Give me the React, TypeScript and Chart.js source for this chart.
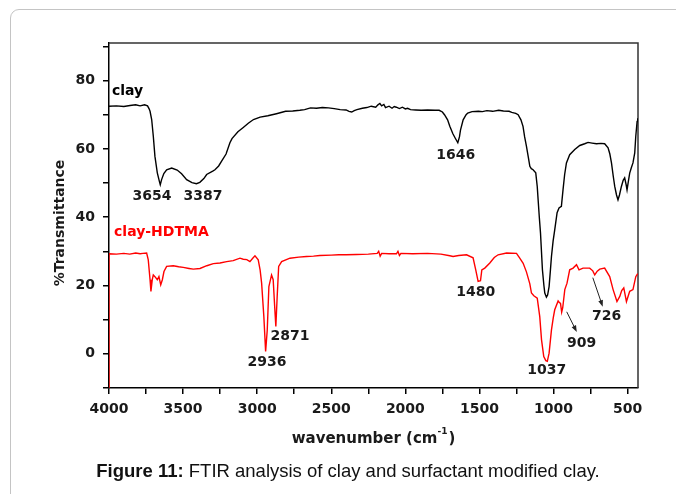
import React, { useEffect, useRef } from 'react';
import { Chart, registerables } from 'chart.js';

Chart.register(...registerables);

// ---- data ----
const CLAY_WAVENUMBER = [
  4000, 3950, 3900, 3858, 3820, 3790, 3760, 3740, 3730, 3723, 3712, 3701, 3690, 3674, 3660, 3654, 3645, 3630,
  3611, 3577, 3540, 3510, 3476, 3440, 3410, 3387, 3360, 3341, 3300, 3285, 3260, 3240, 3210, 3184, 3170, 3130,
  3096, 3060, 3025, 2980, 2928, 2870, 2808, 2760, 2712, 2680, 2640, 2600, 2560, 2519, 2480, 2440, 2400, 2380,
  2362, 2345, 2327, 2290, 2260, 2230, 2200, 2185, 2172, 2160, 2145, 2134, 2110, 2090, 2075, 2061, 2040, 2020,
  2000, 1985, 1965, 1930, 1893, 1850, 1800, 1772, 1750, 1736, 1715, 1700, 1680, 1664, 1646, 1635, 1628, 1610,
  1590, 1579, 1550, 1507, 1480, 1450, 1411, 1370, 1338, 1300, 1282, 1255, 1239, 1220, 1206, 1195, 1183, 1170,
  1160, 1150, 1138, 1120, 1110, 1104, 1096, 1088, 1075, 1065, 1059, 1048, 1040, 1030, 1022, 1014, 1003, 992,
  976, 963, 947, 936, 925, 913, 891, 857, 823, 790, 767, 740, 710, 680, 655, 632, 620, 609, 597, 587, 575, 565,
  555, 542, 530, 520, 510, 504, 495, 486, 475, 464, 452, 445, 436, 432,
];
const CLAY_TRANSMITTANCE = [
  72.5, 72.6, 72.4, 72.7, 72.9, 72.6, 72.9, 72.6, 71.8, 71, 68.6, 63.7, 57.8, 53, 50.5, 49.5, 51, 52.8,
  53.9, 54.4, 53.8, 52.7, 51, 50.1, 49.8, 50.2, 51.3, 52.5, 53.5, 53.9, 55, 56.4, 58.5, 61.8, 63, 65,
  66.2, 67.5, 68.6, 69.3, 69.7, 70.3, 71, 71.1, 71.3, 71.5, 72, 71.9, 72.1, 72, 71.8, 71.5, 71.4, 71.0,
  70.8, 71.2, 71.5, 71.9, 72.1, 72.5, 72.2, 72.9, 73.3, 72.6, 73.0, 72.1, 72.5, 71.9, 72.4, 72.2, 71.8, 72.2,
  71.7, 71.9, 71.5, 71.4, 71.3, 71.4, 71.3, 71.3, 70.8, 70, 68.5, 66.6, 64.5, 63.2, 61.8, 63.5, 65.5, 68.5,
  70, 70.5, 70.9, 71, 70.9, 71.2, 71, 71.3, 71.1, 71, 70.7, 70.4, 70, 68.5, 66.6, 63.5, 60.8, 57.5,
  54.9, 54.2, 53.9, 53, 49, 45.1, 40, 35.4, 24.6, 20, 17.8, 16.6, 17.2, 19.7, 24, 28.5, 33, 36.3,
  41.3, 42.7, 43.2, 48, 52.5, 55.9, 58.3, 59.8, 61, 61.5, 61.9, 61.7, 61.5, 61.6, 61.5, 60.3, 58.5, 55.9, 52, 49, 46.5, 45.1,
  46.5, 49, 50.8, 51.5, 49.5, 48, 50.5, 52.9, 54.5, 55.9, 58.8, 63.7, 68, 69,
];

const HDTMA_WAVENUMBER = [
  4000, 4000, 3950, 3900, 3860, 3820, 3790, 3771, 3746, 3735, 3723, 3717, 3708, 3701, 3690, 3674, 3663, 3651,
  3640, 3629, 3611, 3566, 3530, 3499, 3460, 3431, 3386, 3340, 3296, 3251, 3206, 3162, 3116, 3094, 3070, 3049,
  3030, 3015, 2993, 2980, 2970, 2955, 2943, 2932, 2921, 2903, 2892, 2882, 2874, 2865, 2855, 2835, 2779, 2720,
  2667, 2620, 2577, 2500, 2450, 2400, 2330, 2250, 2190, 2180, 2170, 2160, 2110, 2060, 2050, 2040, 2030, 1950,
  1850, 1760, 1700, 1678, 1640, 1587, 1543, 1525, 1509, 1493, 1484, 1464, 1430, 1400, 1374, 1317, 1250, 1228,
  1205, 1183, 1160, 1149, 1133, 1110, 1093, 1081, 1066, 1052, 1042, 1030, 1014, 1002, 992, 969, 960, 953,
  945, 938, 924, 909, 891, 868, 845, 828, 801, 756, 735, 722, 705, 688, 655, 621, 598, 572, 553, 540,
  526, 508, 486, 464, 445, 432,
];
const HDTMA_TRANSMITTANCE = [
  -10, 29.3, 29.2, 29.4, 29.2, 29.5, 29.3, 29.4, 29.5, 27.5, 21.7, 18.3, 21.7, 23.1, 22.6, 21.7, 22.6, 20.2,
  21.7, 24.1, 25.6, 25.8, 25.5, 25.3, 25.0, 24.8, 25, 25.8, 26.4, 26.6, 27, 27.3, 28, 27.7, 27.6, 27,
  28, 28.7, 27.5, 24.5, 20.7, 10.9, 0.7, 7, 19.7, 23.1, 21.7, 13.9, 8, 16.8, 25.6, 27, 28, 28.3,
  28.5, 28.6, 28.8, 28.9, 29.0, 29, 29.1, 29.2, 29.4, 30.0, 28.6, 29.4, 29.3, 29.3, 30.0, 28.8, 29.4, 29.3,
  29.4, 29.2, 28.7, 28.5, 28.8, 29, 28.1, 24.6, 21.2, 21.4, 24.6, 25.1, 26.6, 28.2, 29, 29.5, 29.4, 28,
  26.5, 24, 20.5, 17.8, 17.0, 16.3, 10.9, 4.1, -0.8, -2.0, -2.2, 0.2, 7, 10.5, 12.9, 15.5, 15.0, 14.8,
  12.2, 13.5, 18.8, 20.7, 24.6, 25.1, 26.1, 24.6, 25.1, 25.1, 24.3, 23.1, 24.2, 24.8, 25.1, 22.6, 18.8, 15.3, 16.8, 18.5,
  19.3, 15.3, 18.3, 18.8, 22.6, 23.5,
];

const SERIES_NAMES = ['clay', 'clay-HDTMA'];
const X_TICKS = [4000, 3750, 3500, 3250, 3000, 2750, 2500, 2250, 2000, 1750, 1500, 1250, 1000, 750, 500];
const X_LABELED = [4000, 3500, 3000, 2500, 2000, 1500, 1000, 500];
const Y_TICKS = [-10, 0, 10, 20, 30, 40, 50, 60, 70, 80, 90];
const Y_LABELED = [0, 20, 40, 60, 80];
const X_TITLE = 'wavenumber (cm';
const X_TITLE_SUP = '-1';
const Y_TITLE = '%Transmittance';
const CAPTION_BOLD = 'Figure 11:';
const CAPTION_TEXT = ' FTIR analysis of clay and surfactant modified clay.';

// peak annotations: label text, anchored at data coordinates (centre of text)
const PEAK_TEXT = ['3654', '3387', '1646', '1480', '2936', '2871', '1037', '909', '726'];
const PEAK_AT_WAVENUMBER = [3710, 3366, 1660, 1525, 2934, 2779, 1046, 810, 641];
const PEAK_AT_VALUE = [46, 46, 58, 17.9, -2.6, 5.0, -4.7, 3.2, 11.1];
// series name labels (left aligned)
const NAME_AT_WAVENUMBER = [3980, 3966];
const NAME_AT_VALUE = [76.8, 35.6];
// arrows (from -> to) in data coordinates
const ARROW_FROM_WAVENUMBER = [911, 735];
const ARROW_FROM_VALUE = [12.3, 22.3];
const ARROW_TO_WAVENUMBER = [843, 668];
const ARROW_TO_VALUE = [6.4, 13.8];

const FONT = 'DejaVu Sans';

const decorPlugin = {
  id: 'decor',
  beforeDatasetsDraw(chart: any) {
    const { ctx, chartArea: a } = chart;
    ctx.save();
    ctx.strokeStyle = '#333';
    ctx.lineWidth = 1.5;
    ctx.beginPath();
    ctx.moveTo(a.left, a.top);
    ctx.lineTo(a.right, a.top);
    ctx.lineTo(a.right, a.bottom);
    ctx.stroke();
    ctx.restore();
  },
  afterDraw(chart: any) {
    const { ctx, chartArea: a, scales } = chart;
    const sx = scales.x;
    const sy = scales.y;
    ctx.save();
    // peak labels
    ctx.font = `bold 14px "${FONT}"`;
    ctx.fillStyle = '#1a1a1a';
    ctx.textAlign = 'center';
    ctx.textBaseline = 'middle';
    PEAK_TEXT.forEach((t, i) => {
      ctx.fillText(t, sx.getPixelForValue(PEAK_AT_WAVENUMBER[i]), sy.getPixelForValue(PEAK_AT_VALUE[i]));
    });
    // series names
    ctx.textAlign = 'left';
    const nameColors = ['#000000', '#ff0000'];
    SERIES_NAMES.forEach((t, i) => {
      ctx.fillStyle = nameColors[i];
      ctx.fillText(t, sx.getPixelForValue(NAME_AT_WAVENUMBER[i]), sy.getPixelForValue(NAME_AT_VALUE[i]));
    });
    // arrows
    ctx.strokeStyle = '#222';
    ctx.fillStyle = '#222';
    ctx.lineWidth = 1;
    ARROW_FROM_WAVENUMBER.forEach((_, i) => {
      const x1 = sx.getPixelForValue(ARROW_FROM_WAVENUMBER[i]);
      const y1 = sy.getPixelForValue(ARROW_FROM_VALUE[i]);
      const x2 = sx.getPixelForValue(ARROW_TO_WAVENUMBER[i]);
      const y2 = sy.getPixelForValue(ARROW_TO_VALUE[i]);
      const ang = Math.atan2(y2 - y1, x2 - x1);
      const hl = 7;
      ctx.beginPath();
      ctx.moveTo(x1, y1);
      ctx.lineTo(x2 - Math.cos(ang) * hl * 0.8, y2 - Math.sin(ang) * hl * 0.8);
      ctx.stroke();
      ctx.beginPath();
      ctx.moveTo(x2, y2);
      ctx.lineTo(x2 - hl * Math.cos(ang - 0.35), y2 - hl * Math.sin(ang - 0.35));
      ctx.lineTo(x2 - hl * Math.cos(ang + 0.35), y2 - hl * Math.sin(ang + 0.35));
      ctx.closePath();
      ctx.fill();
    });
    // x title with superscript
    ctx.fillStyle = '#1a1a1a';
    const mainFont = `bold 15px "${FONT}"`;
    const supFont = `bold 9px "${FONT}"`;
    ctx.font = mainFont;
    const w1 = ctx.measureText(X_TITLE).width;
    const w3 = ctx.measureText(')').width;
    ctx.font = supFont;
    const w2 = ctx.measureText(X_TITLE_SUP).width;
    const total = w1 + w2 + w3 + 1;
    const cx = (a.left + a.right) / 2;
    let x = cx - total / 2;
    const ty = 439;
    ctx.textAlign = 'left';
    ctx.textBaseline = 'middle';
    ctx.font = mainFont;
    ctx.fillText(X_TITLE, x, ty);
    x += w1;
    ctx.font = supFont;
    ctx.fillText(X_TITLE_SUP, x, ty - 7);
    x += w2 + 1;
    ctx.font = mainFont;
    ctx.fillText(')', x, ty);
    // y title
    ctx.translate(60, 223);
    ctx.rotate(-Math.PI / 2);
    ctx.font = `bold 14px "${FONT}"`;
    ctx.textAlign = 'center';
    ctx.fillText(Y_TITLE, 0, 0);
    ctx.restore();
  },
};

export default function App() {
  const canvasRef = useRef<HTMLCanvasElement | null>(null);

  useEffect(() => {
    const canvas = canvasRef.current;
    if (!canvas) return;
    const chart = new Chart(canvas, {
      type: 'line',
      data: {
        datasets: [
          {
            label: SERIES_NAMES[0],
            data: CLAY_WAVENUMBER.map((w, i) => ({ x: w, y: CLAY_TRANSMITTANCE[i] })),
            borderColor: '#000000',
            borderWidth: 1.4,
            pointRadius: 0,
            tension: 0,
          },
          {
            label: SERIES_NAMES[1],
            data: HDTMA_WAVENUMBER.map((w, i) => ({ x: w, y: HDTMA_TRANSMITTANCE[i] })),
            borderColor: '#ff0000',
            borderWidth: 1.4,
            pointRadius: 0,
            tension: 0,
          },
        ],
      },
      options: {
        animation: false,
        responsive: false,
        events: [],
        layout: { padding: { left: 0, top: 43, right: 38, bottom: 0 } },
        plugins: { legend: { display: false }, tooltip: { enabled: false }, title: { display: false } },
        scales: {
          x: {
            type: 'linear',
            reverse: true,
            min: 430,
            max: 4000,
            afterBuildTicks: (scale: any) => {
              scale.ticks = X_TICKS.map((v) => ({ value: v }));
            },
            afterFit: (scale: any) => {
              scale.height = 106;
            },
            grid: { drawOnChartArea: false, drawTicks: true, tickLength: 6, color: '#000', lineWidth: 1.5 },
            border: { display: true, color: '#000', width: 1.5 },
            ticks: {
              autoSkip: false,
              maxRotation: 0,
              padding: 7,
              color: '#1a1a1a',
              font: { family: FONT, size: 14, weight: 'bold' },
              callback: (v: any) => (X_LABELED.includes(Number(v)) ? String(v) : ''),
            },
          },
          y: {
            type: 'linear',
            min: -10,
            max: 91,
            afterBuildTicks: (scale: any) => {
              scale.ticks = Y_TICKS.map((v) => ({ value: v }));
            },
            afterFit: (scale: any) => {
              scale.width = 109;
            },
            grid: { drawOnChartArea: false, drawTicks: true, tickLength: 6, color: '#000', lineWidth: 1.5 },
            border: { display: true, color: '#000', width: 1.5 },
            ticks: {
              autoSkip: false,
              padding: 8,
              color: '#1a1a1a',
              font: { family: FONT, size: 14, weight: 'bold' },
              callback: (v: any) => (Y_LABELED.includes(Number(v)) ? String(v) : ''),
            },
          },
        },
      } as any,
      plugins: [decorPlugin],
    });
    return () => chart.destroy();
  }, []);

  return (
    <div
      style={{
        position: 'fixed',
        left: 0,
        top: 0,
        width: 676,
        height: 494,
        overflow: 'hidden',
        background: '#fff',
      }}
    >
      <div
        style={{
          position: 'absolute',
          left: 10,
          top: 9,
          width: 720,
          height: 560,
          border: '1px solid #c4c4c4',
          borderRadius: 9,
          boxSizing: 'border-box',
        }}
      />
      <canvas
        ref={canvasRef}
        width={676}
        height={494}
        style={{ position: 'absolute', left: 0, top: 0, width: 676, height: 494 }}
      />
      <div
        style={{
          position: 'absolute',
          left: 0,
          width: 696,
          top: 460,
          textAlign: 'center',
          fontFamily: '"Liberation Sans", Arial, sans-serif',
          fontSize: 18.5,
          lineHeight: '22px',
          color: '#111',
          whiteSpace: 'nowrap',
        }}
      >
        <b>{CAPTION_BOLD}</b>
        {CAPTION_TEXT}
      </div>
    </div>
  );
}
